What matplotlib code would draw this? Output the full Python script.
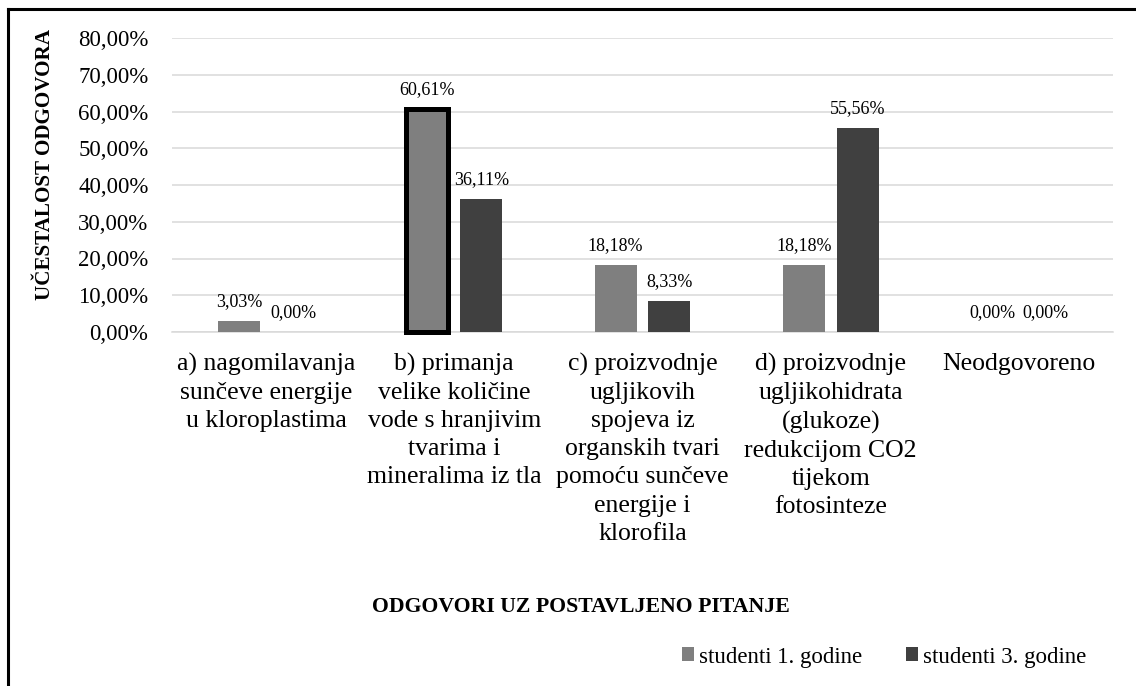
import matplotlib.pyplot as plt
import numpy as np
from matplotlib.lines import Line2D
from matplotlib.ticker import FuncFormatter

plt.rcParams['font.family'] = ['Liberation Serif', 'DejaVu Serif']

# podaci
categories = [
    "a) nagomilavanja\nsunčeve energije\nu kloroplastima",
    "b) primanja\nvelike količine\nvode s hranjivim\ntvarima i\nmineralima iz tla",
    "c) proizvodnje\nugljikovih\nspojeva iz\norganskih tvari\npomoću sunčeve\nenergije i\nklorofila",
    "d) proizvodnje\nugljikohidrata\n(glukoze)\nredukcijom CO2\ntijekom\nfotosinteze",
    "Neodgovoreno",
]
first_year = [3.03, 60.61, 18.18, 18.18, 0.00]
third_year = [0.00, 36.11, 8.33, 55.56, 0.00]
series_names = ["studenti 1. godine", "studenti 3. godine"]
y_ticks = [0, 10, 20, 30, 40, 50, 60, 70, 80]

fig = plt.figure(figsize=(11.36, 6.86), dpi=100)
ax = fig.add_axes([172 / 1136, 1 - 332 / 686, (1113 - 172) / 1136, (332 - 38) / 686])

x = np.arange(len(categories))
w = 0.223
off = 0.143
light = '#7f7f7f'
dark = '#404040'

b1 = ax.bar(x - off, first_year, w, color=light, label=series_names[0], zorder=3)
b2 = ax.bar(x + off, third_year, w, color=dark, label=series_names[1], zorder=3)

# istaknuti stupac (b, 1. godina) s debelim crnim obrubom
b1[1].set_edgecolor('black')
b1[1].set_linewidth(3.6)
b1[1].set_clip_on(False)

def fmt(v):
    return f"{v:.2f}".replace('.', ',') + '%'

for bars, vals in ((b1, first_year), (b2, third_year)):
    for r, v in zip(bars, vals):
        ax.annotate(fmt(v), (r.get_x() + r.get_width() / 2, v), xytext=(0, 8),
                    textcoords='offset points', ha='center', va='bottom', fontsize=13)

ax.set_xlim(-0.5, len(categories) - 0.5)
ax.set_ylim(0, 80)
ax.set_yticks(y_ticks)
ax.yaxis.set_major_formatter(FuncFormatter(lambda v, p: fmt(v)))
ax.set_xticks(x)
ax.set_xticklabels(categories, fontsize=18.5, linespacing=1.36)
ax.tick_params(axis='y', length=0, pad=17, labelsize=16.5)
ax.tick_params(axis='x', length=0, pad=15)
ax.grid(axis='y', color='#d9d9d9', linewidth=1.1, zorder=0)
for s in ['top', 'right', 'left']:
    ax.spines[s].set_visible(False)
ax.spines['bottom'].set_color('#d9d9d9')
ax.spines['bottom'].set_linewidth(1.1)

fig.text(45 / 1136, 1 - 164 / 686, "UČESTALOST ODGOVORA", rotation=90, ha='center', va='center',
         fontsize=15.2, fontweight='bold')
fig.text(581 / 1136, 1 - 607 / 686, "ODGOVORI UZ POSTAVLJENO PITANJE", ha='center', va='center',
         fontsize=15.7, fontweight='bold')

fig.legend(loc='center', bbox_to_anchor=(884 / 1136, 1 - 657 / 686), ncol=2, frameon=False,
           fontsize=16.5, handlelength=0.55, handleheight=0.55, handletextpad=0.2, columnspacing=1.9)

# okvir grafikona (gornji i lijevi rub)
fig.add_artist(Line2D([8 / 1136, 8 / 1136], [0, 1 - 9 / 686], color='black', linewidth=2.2,
                      transform=fig.transFigure))
fig.add_artist(Line2D([8 / 1136, 1], [1 - 9 / 686, 1 - 9 / 686], color='black', linewidth=2.2,
                      transform=fig.transFigure))

fig.savefig('out.png', dpi=100)
